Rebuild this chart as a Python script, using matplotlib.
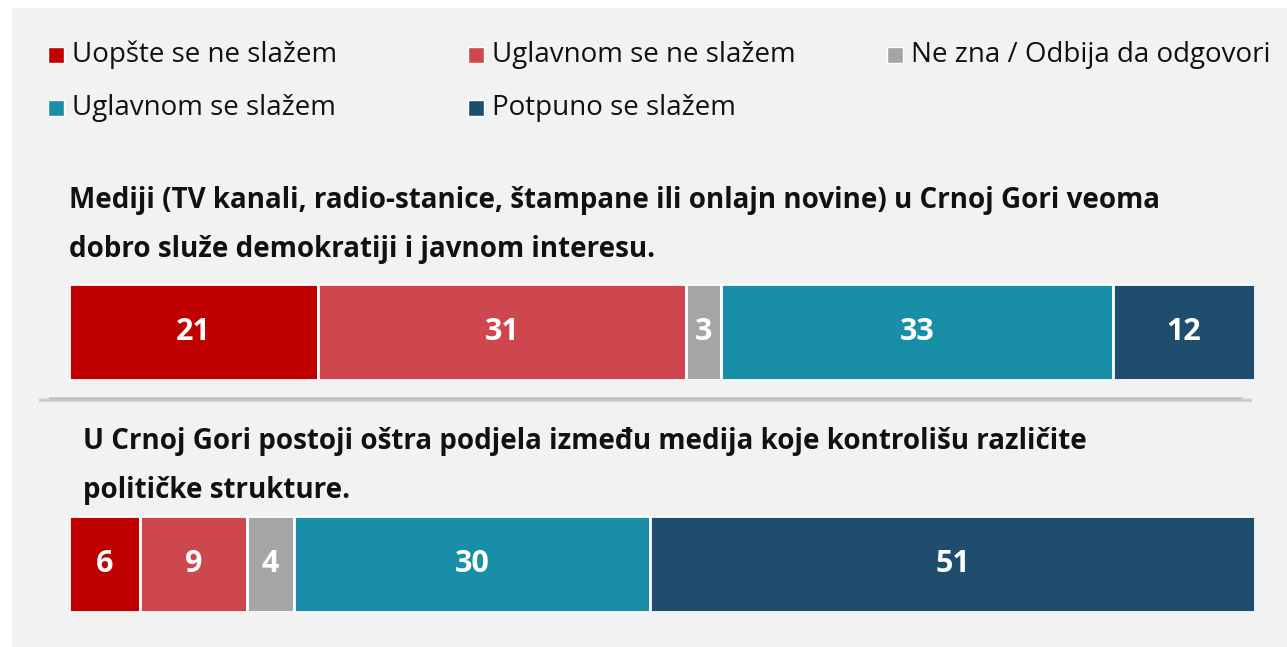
import matplotlib as mpl
mpl.use('Agg')
import matplotlib.pyplot as plt
from matplotlib.patches import Rectangle

categories = ["Uopšte se ne slažem", "Uglavnom se ne slažem", "Ne zna / Odbija da odgovori",
              "Uglavnom se slažem", "Potpuno se slažem"]
colors = ["#C00000", "#CF474E", "#A5A5A5", "#188EA7", "#1F4D6E"]
question1 = "Mediji (TV kanali, radio-stanice, štampane ili onlajn novine) u Crnoj Gori veoma\ndobro služe demokratiji i javnom interesu."
question2 = "U Crnoj Gori postoji oštra podjela između medija koje kontrolišu različite\npolitičke strukture."
values1 = [21, 31, 3, 33, 12]
values2 = [6, 9, 4, 30, 51]

W, H = 1287, 647
plt.rcParams['font.family'] = ['Open Sans', 'DejaVu Sans']
fig = plt.figure(figsize=(W / 100, H / 100), dpi=100)
fig.patch.set_facecolor('white')

def fx(px):
    return px / W

def fy(py):
    return 1 - py / H

# gray panel
fig.patches.append(Rectangle((fx(12), 0), 1 - fx(12), fy(8), transform=fig.transFigure,
                             facecolor='#F2F2F2', edgecolor='none', zorder=-5))

# legend, row-major
leg_pos = [(48, 55), (468, 55), (887, 55), (48, 108), (468, 108)]
for (x, y), lab, c in zip(leg_pos, categories, colors):
    fig.patches.append(Rectangle((fx(x), fy(y + 8)), fx(16), 16 / H, transform=fig.transFigure,
                                 facecolor=c, edgecolor='white', linewidth=1, zorder=2))
    fig.text(fx(x + 24), fy(y), lab, fontsize=20, va='center', ha='left', color='#111111')

def draw_bar(top, vals):
    ax = fig.add_axes([fx(69), fy(top + 96), fx(1255) - fx(69), 96 / H], zorder=3)
    ax.patch.set_alpha(0)
    left = 0
    for v, c in zip(vals, colors):
        ax.barh(0, v, left=left, height=1, color=c, edgecolor='white', linewidth=2)
        ax.text(left + v / 2, 0, str(v), ha='center', va='center', color='white',
                fontsize=22, fontweight='bold')
        left += v
    ax.set_xlim(0, 100)
    ax.set_ylim(-0.5, 0.5)
    ax.axis('off')

fig.text(fx(69), fy(225), question1, fontsize=20, fontweight='bold', va='center', ha='left',
         linespacing=1.88, color='#111111')
draw_bar(284, values1)

# divider with soft shadow
for off, a in [(3, 0.04), (2, 0.06), (1, 0.09)]:
    fig.lines.append(plt.Line2D([fx(40), fx(1250)], [fy(398 + off), fy(398 + off)],
                                transform=fig.transFigure, color='#000000', alpha=a, linewidth=2))
fig.lines.append(plt.Line2D([fx(50), fx(1240)], [fy(398), fy(398)], transform=fig.transFigure,
                            color='#C4C4C4', linewidth=2))

fig.text(fx(83), fy(466), question2, fontsize=20, fontweight='bold', va='center', ha='left',
         linespacing=1.88, color='#111111')
draw_bar(516, values2)

fig.savefig('out.png', dpi=100)
